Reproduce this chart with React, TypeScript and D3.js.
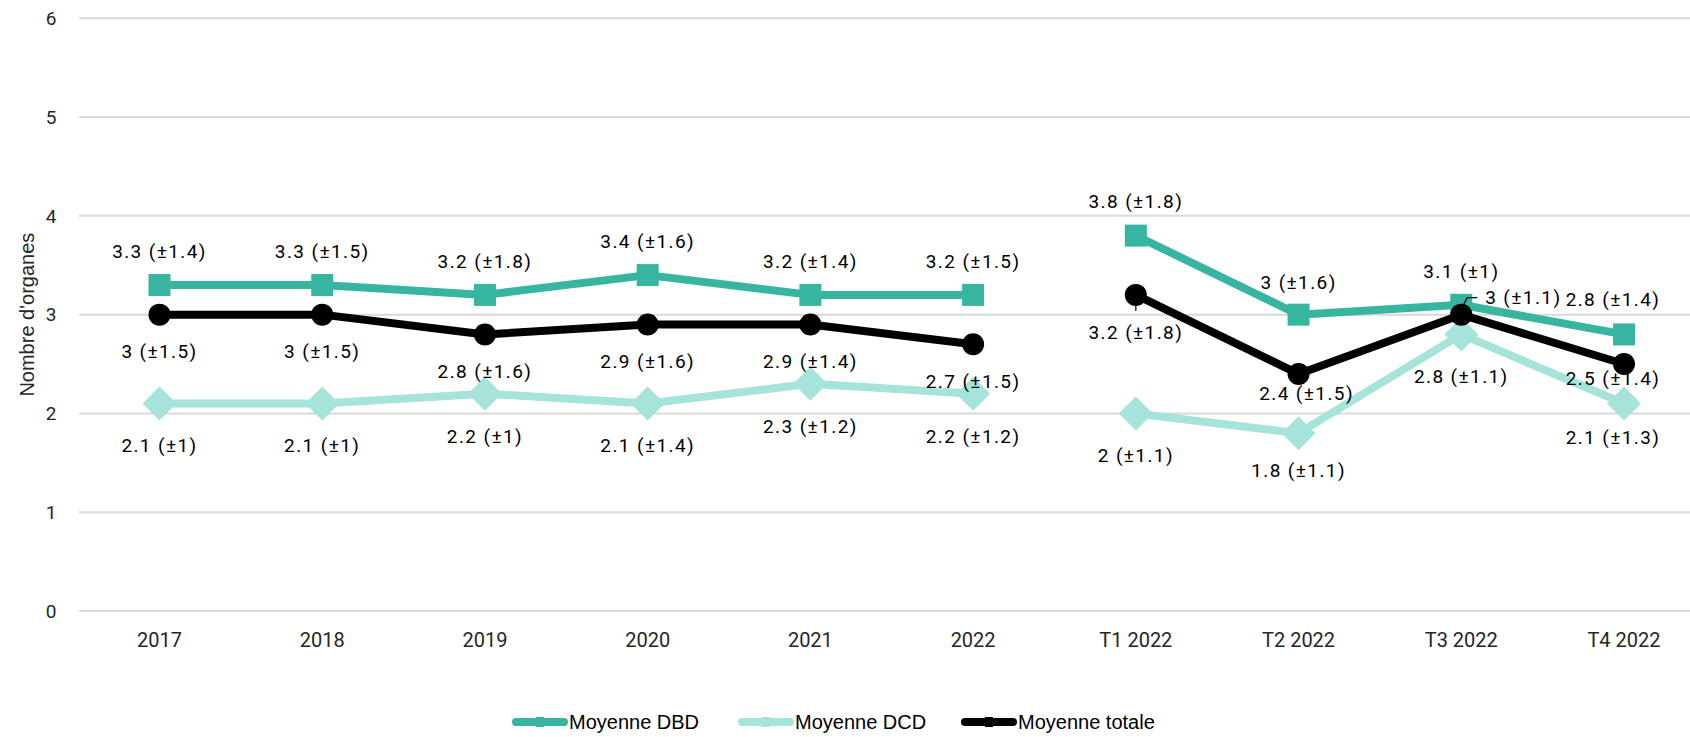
import React, { useEffect, useRef } from 'react';
import * as d3 from 'd3';

const categories = ['2017', '2018', '2019', '2020', '2021', '2022', 'T1 2022', 'T2 2022', 'T3 2022', 'T4 2022'];
// the line breaks between the yearly and the quarterly part
const segments = [[0, 1, 2, 3, 4, 5], [6, 7, 8, 9]];

const dbdValues = [3.3, 3.3, 3.2, 3.4, 3.2, 3.2, 3.8, 3.0, 3.1, 2.8];
const dcdValues = [2.1, 2.1, 2.2, 2.1, 2.3, 2.2, 2.0, 1.8, 2.8, 2.1];
const totalValues = [3.0, 3.0, 2.8, 2.9, 2.9, 2.7, 3.2, 2.4, 3.0, 2.5];

const dbdSd = ['1.4', '1.5', '1.8', '1.6', '1.4', '1.5', '1.8', '1.6', '1', '1.4'];
const dcdSd = ['1', '1', '1', '1.4', '1.2', '1.2', '1.1', '1.1', '1.1', '1.3'];
const totalSd = ['1.5', '1.5', '1.6', '1.6', '1.4', '1.5', '1.8', '1.5', '1.1', '1.4'];

const yTicks = [0, 1, 2, 3, 4, 5, 6];

const TEAL = '#37b5a1';
const LIGHT = '#a6e4db';

const sans = '"Liberation Sans", Arial, sans-serif';
const roboto = 'Roboto, "Noto Sans", sans-serif';

type Series = {
  name: string;
  values: number[];
  sd: string[];
  color: string;
  marker: 'square' | 'diamond' | 'circle';
  dy: number;
  nudge: Record<number, [number, number]>;
};

const series: Series[] = [
  { name: 'Moyenne DBD', values: dbdValues, sd: dbdSd, color: TEAL, marker: 'square', dy: -34, nudge: { 7: [0, 2], 9: [-11, -1] } },
  { name: 'Moyenne DCD', values: dcdValues, sd: dcdSd, color: LIGHT, marker: 'diamond', dy: 42, nudge: { 7: [0, -5], 9: [-11, -8] } },
  { name: 'Moyenne totale', values: totalValues, sd: totalSd, color: '#000000', marker: 'circle', dy: 37, nudge: { 7: [8, -18], 8: [62, -54], 9: [-11, -23] } },
];

const fmt = (v: number, sd: string) => `${d3.format('~g')(v)} (±${sd})`;

const App: React.FC = () => {
  const svgRef = useRef<SVGSVGElement | null>(null);

  useEffect(() => {
    if (!svgRef.current) return;
    const width = 1690;
    const height = 737;
    const svg = d3.select(svgRef.current);
    svg.selectAll('*').remove();
    svg.attr('width', width).attr('height', height);

    const x = d3.scalePoint<string>().domain(categories).range([159.5, 1624]);
    const y = d3.scaleLinear().domain([0, 6]).range([611, 18.3]);

    // grid
    svg
      .append('g')
      .selectAll('line')
      .data(yTicks)
      .enter()
      .append('line')
      .attr('x1', 79)
      .attr('x2', width)
      .attr('y1', (d) => y(d))
      .attr('y2', (d) => y(d))
      .attr('stroke', '#d9d9d9')
      .attr('stroke-width', 2);

    // Y ticks
    svg
      .append('g')
      .selectAll('text')
      .data(yTicks)
      .enter()
      .append('text')
      .attr('x', 51)
      .attr('y', (d) => y(d))
      .attr('dy', '0.36em')
      .attr('text-anchor', 'middle')
      .style('font-family', roboto)
      .style('font-size', '19px')
      .attr('fill', '#262626')
      .text((d) => d);

    svg
      .append('text')
      .attr('transform', `translate(27,${y(3)}) rotate(-90)`)
      .attr('text-anchor', 'middle')
      .attr('dy', '0.36em')
      .style('font-family', sans)
      .style('font-size', '20px')
      .attr('fill', '#262626')
      .text("Nombre d'organes");

    // X ticks
    svg
      .append('g')
      .selectAll('text')
      .data(categories)
      .enter()
      .append('text')
      .attr('x', (d) => x(d)!)
      .attr('y', 640)
      .attr('dy', '0.36em')
      .attr('text-anchor', 'middle')
      .style('font-family', roboto)
      .style('font-size', '20px')
      .attr('fill', '#262626')
      .text((d) => d);

    const line = d3.line<number>().x((i) => x(categories[i])!);

    // lines, DCD first so DBD/total sit on top
    const order = [1, 0, 2];
    order.forEach((si) => {
      const s = series[si];
      const g = svg.append('g');
      segments.forEach((seg) => {
        g.append('path')
          .attr('d', line.y((i) => y(s.values[i]))(seg))
          .attr('fill', 'none')
          .attr('stroke', s.color)
          .attr('stroke-width', 8)
          .attr('stroke-linejoin', 'round');
      });
      const pts = g
        .selectAll('.pt')
        .data(s.values)
        .enter()
        .append('g')
        .attr('transform', (d, i) => `translate(${x(categories[i])},${y(d)})`);
      if (s.marker === 'square') {
        pts.append('rect').attr('x', -11).attr('y', -11).attr('width', 22).attr('height', 22).attr('fill', s.color);
      } else if (s.marker === 'diamond') {
        pts.append('path').attr('d', 'M0,-17L17,0L0,17L-17,0Z').attr('fill', s.color);
      } else {
        pts.append('circle').attr('r', 11).attr('fill', s.color);
      }
    });

    // leader lines
    const lead = svg.append('g').attr('stroke', '#000').attr('stroke-width', 1.2).attr('fill', 'none');
    lead.append('path').attr('d', `M${x('T1 2022')},${y(3.2) + 8}V${y(3.2) + 16}`);
    lead
      .append('path')
      .attr('d', `M${x('T3 2022')! - 2},${y(3.0) - 2}L${x('T3 2022')! + 6},${y(3.0) - 17}H${x('T3 2022')! + 16}`);

    // data labels
    series.forEach((s) => {
      svg
        .append('g')
        .selectAll('text')
        .data(s.values)
        .enter()
        .append('text')
        .attr('x', (d, i) => x(categories[i])! + (s.nudge[i]?.[0] ?? 0))
        .attr('y', (d, i) => y(d) + s.dy + (s.nudge[i]?.[1] ?? 0))
        .attr('dy', '0.36em')
        .attr('text-anchor', 'middle')
        .style('font-family', roboto)
        .style('font-size', '19px')
        .style('letter-spacing', '1.4px')
        .attr('fill', '#000')
        .text((d, i) => fmt(d, s.sd[i]));
    });

    // legend
    const legendX = [513, 739, 962];
    const lg = svg
      .append('g')
      .selectAll('g')
      .data(series)
      .enter()
      .append('g')
      .attr('transform', (d, i) => `translate(${legendX[i]},722)`);
    lg.append('line')
      .attr('x1', 3)
      .attr('x2', 51)
      .attr('stroke', (d) => d.color)
      .attr('stroke-width', 8)
      .attr('stroke-linecap', 'round');
    lg.append('rect').attr('x', 23).attr('y', -5).attr('width', 8).attr('height', 10).attr('fill', (d) => d.color);
    lg.append('text')
      .attr('x', 56)
      .attr('dy', '0.36em')
      .style('font-family', sans)
      .style('font-size', '20px')
      .attr('fill', '#000')
      .text((d) => d.name);
  }, []);

  return (
    <div style={{ position: 'absolute', left: 0, top: 0, background: '#fff' }}>
      <svg ref={svgRef} style={{ display: 'block' }}></svg>
    </div>
  );
};

export default App;
